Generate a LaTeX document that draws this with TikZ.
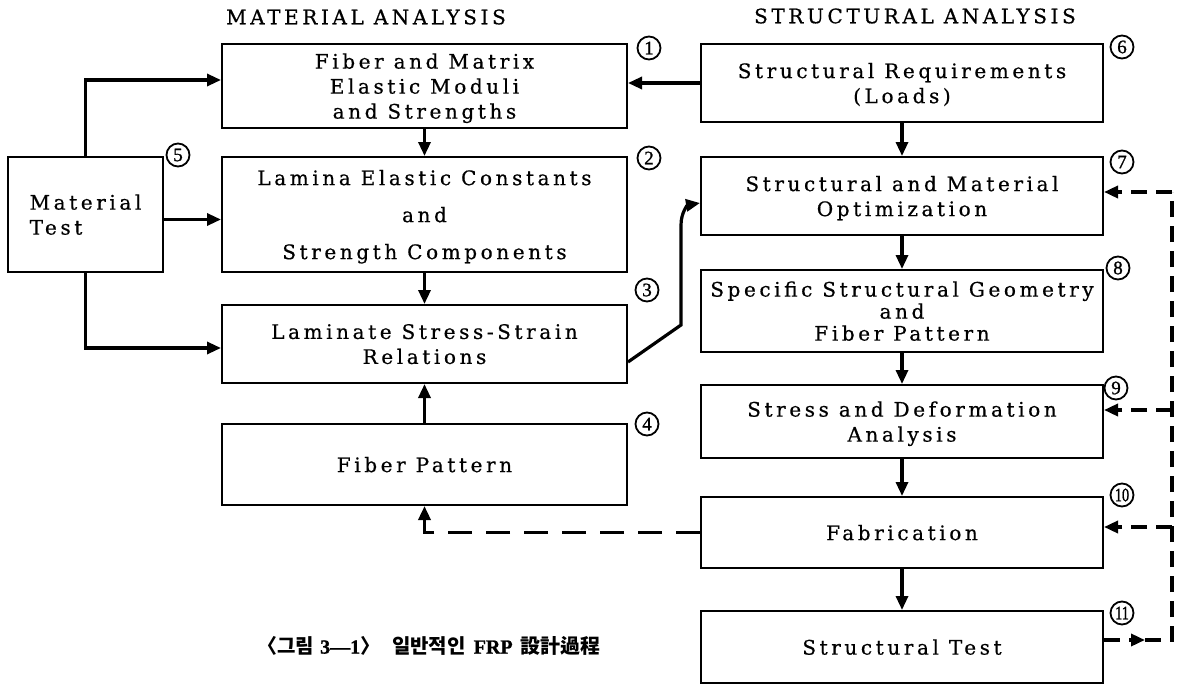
\documentclass[tikz,border=0pt]{standalone}
\usepackage{fontspec}
\setmainfont{DejaVu Serif}[LetterSpace=18, FakeBold=0.6]
\newfontfamily\numfont{Liberation Serif}[FakeBold=1.2]
\newfontfamily\cjk{Noto Sans CJK KR}
\usetikzlibrary{arrows.meta,calc}
\begin{document}
\begin{tikzpicture}[x=1pt,y=-1pt,
  box/.style={draw, line width=2pt, rectangle, inner sep=0pt, align=center,
    font=\fontsize{20}{25}\selectfont, text depth=-6pt},
  lbox/.style={box, minimum width=405pt},
  rbox/.style={box, minimum width=402pt},
  tip/.style={-{Triangle[length=14pt,width=12pt]}},
  arr/.style={line width=3.2pt, tip},
  fb/.style={line width=3.4pt, dash pattern=on 16pt off 9pt},
  fbl/.style={line width=3.4pt, dash pattern=on 24pt off 14pt},
  num/.style={circle, draw, line width=1.8pt, minimum size=23pt, inner sep=0pt,
    font=\numfont\fontsize{19}{19}\selectfont},
  head/.style={font=\fontsize{20}{20}\selectfont}
]
\useasboundingbox (0,0) rectangle (1189,685);
% headers
\node[head] (hm) at (366,17) {MATERIAL ANALYSIS};
\node[head] (hs) at (915,16) {STRUCTURAL ANALYSIS};
% left column
\node[lbox, minimum height=84pt] (b1) at (424.5,86) {Fiber and Matrix\\Elastic Moduli\\and Strengths};
\node[lbox, minimum height=115pt] (b2) at (424.5,214.5) {Lamina Elastic Constants\\[12pt]and\\[12pt]Strength Components};
\node[lbox, minimum height=78pt] (b3) at (424.5,344) {Laminate Stress-Strain\\Relations};
\node[lbox, minimum height=81pt] (b4) at (424.5,464.5) {Fiber Pattern};
\node[box, minimum width=155pt, minimum height=115pt, align=left] (b5) at (85.5,214.5) {Material\\Test};
% right column
\node[rbox, minimum height=78pt] (b6) at (902,83) {Structural Requirements\\(Loads)};
\node[rbox, minimum height=78pt] (b7) at (902,196) {Structural and Material\\Optimization};
\node[rbox, minimum height=82pt, font=\fontsize{20}{22}\selectfont] (b8) at (902,311) {Specific Structural Geometry\\and\\Fiber Pattern};
\node[rbox, minimum height=73pt] (b9) at (902,421.5) {Stress and Deformation\\Analysis};
\node[rbox, minimum height=71pt] (b10) at (902,532.5) {Fabrication};
\node[rbox, minimum height=72pt] (b11) at (902,647) {Structural Test};
% circled numbers
\node[num] (n1) at (649,48) {1};
\node[num] (n2) at (649,158) {2};
\node[num] (n3) at (647,290) {3};
\node[num] (n4) at (647,424) {4};
\node[num] (n5) at (178,155) {5};
\node[num] (n6) at (1122,47) {6};
\node[num] (n7) at (1122,162) {7};
\node[num] (n8) at (1118,268) {8};
\node[num] (n9) at (1116,388) {9};
\node[num] (n10) at (1122,495) {\scalebox{0.75}[1]{10}};
\node[num] (n11) at (1122,613) {\scalebox{0.75}[1]{11}};
% caption
\node (cap) at (429,646) {\cjk\bfseries\fontsize{20}{20}\selectfont 〈그림\hspace{6pt}{\numfont\bfseries 3—1}〉\hspace{12pt}일반적인\hspace{8pt}{\numfont\bfseries FRP}\hspace{8pt}設計過程};
% solid connectors
\draw[arr] (b1) -- (b2);
\draw[arr] (b2) -- (b3);
\draw[arr] (b4) -- (b3);
\draw[arr] (b6.west) -- (b6.west -| b1.east);
\draw[arr] (b6) -- (b7);
\draw[arr] (b7) -- (b8);
\draw[arr] (b8) -- (b9);
\draw[arr] (b9) -- (b10);
\draw[arr] (b10) -- (b11);
\draw[arr] (b5.north) |- ([yshift=6pt]b1.west);
\draw[arr] ([yshift=-5pt]b5.east) -- ([yshift=-5pt]b5.east -| b2.west);
\draw[arr] (b5.south) |- ([yshift=-4pt]b3.west);
\coordinate (k1) at (681,325);
\coordinate (k2) at (681,225);
\draw[arr] ([yshift=-18pt]b3.east) -- (k1) -- (k2) .. controls (681,212) and (688,205) .. ([yshift=-7pt]b7.west);
% dashed feedback
\coordinate (fm) at (1145,640);
\coordinate (fr) at (1172,640);
\coordinate (ft) at (1172,192);
\coordinate (f9) at (1172,410);
\coordinate (f10) at (1172,527);
\draw[fb, tip] ([yshift=7pt]b11.east) -- (fm);
\draw[fb] (fm) -- (fr) -- (ft);
\draw[fb, tip] (ft) -- (ft -| b7.east);
\draw[fb, tip] (f9) -- (f9 -| b9.east);
\draw[fb, tip] (f10) -- (f10 -| b10.east);
\draw[fbl, tip] (b10.west) -- (b10.west -| b4.south) -- (b4.south);
\end{tikzpicture}
\end{document}
